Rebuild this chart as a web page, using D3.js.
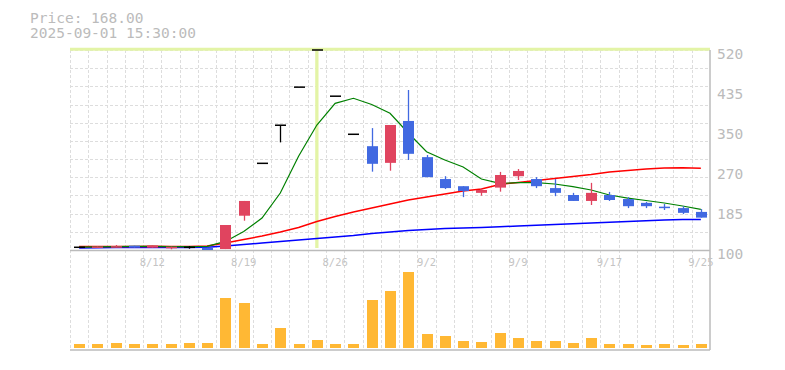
<!DOCTYPE html>
<html lang="en">
<head>
<meta charset="utf-8">
<title>Candle chart</title>
<style>
body { margin: 0; background: #fff; }
svg { display: block; }
.lbl { font-family: "DejaVu Sans Mono", monospace; fill: #bbb; }
.grid line { stroke: #ddd; stroke-dasharray: 3,2; }
</style>
<script src="https://d3js.org/d3.v7.min.js"></script>
</head>
<body>
<div id="chart"></div>
<script>
// trading days shown (holidays 8/11, 9/15, 9/23 skipped)
var dates = ["8/5","8/6","8/7","8/8","8/12","8/13","8/14","8/15","8/18","8/19",
             "8/20","8/21","8/22","8/25","8/26","8/27","8/28","8/29","9/1","9/2",
             "9/3","9/4","9/5","9/8","9/9","9/10","9/11","9/12","9/16","9/17",
             "9/18","9/19","9/22","9/24","9/25"];
var xLabels = ["8/12","8/19","8/26","9/2","9/9","9/17","9/25"];

var open  = [105.7,105.5,106,109,105,103.5,105.7,105,102,172, 282,362,442,520,423,343,318,283,371,295, 249,234,220,231,255,249,230,215.5,203,215.5, 207,199,191,188,180];
var high  = [105.7,107.5,110.5,109,109.5,107,108.4,105,152.5,203, 282,362,442,520,423,343,356,362.5,436,299.5, 255,234,230,264,270,253,249,220,241,222, 211,201,196.5,192,186];
var low   = [105.7,105.5,106,105,105,101.5,102.7,100,102,161.5, 282,326,442,520,423,343,264.5,266.5,289,253, 228,211,214,222.5,247,230,213,203,194.5,203, 188,188,184,175.5,168];
var close = [105.7,107.5,108,105,109.5,107,105.7,100,152.5,203, 282,362,442,520,423,343,281,362.5,302,253, 230,224,226,257.5,266,234,220,203,220,205, 192,192,190,178,168];

var volume = [4,4,5,4,4,4,5,5,50,45, 4,20,4,8,4,4,48,57,76,14, 12,7,6,15,10,7,7,5,10,4, 4,3,4,3,4].map(function(v) { return v * 1000; });

var ma5  = [106,106.5,107,107.5,107.5,107,107,107.5,118,138.9, 167,219.7,297,362.5,408,418.6,405.5,387,345.7,306.4, 289,274.3,249,240,241.3,241.3,238.6,233,226,215.5, 209,204,198.7,192.4,185.5];
var ma25 = [107.3,107.3,107.3,107.3,107.8,107.3,107.3,108.4,114.7,122, 129.4,137.8,147.3,159.9,170.4,179.8,188.2,196.6,205,211.3, 217.6,223.9,228.1,237.6,241.8,246,250.2,254.4,258.6,263.8, 267,270.1,272.2,272.8,271.8];
var ma75 = [104.2,104.6,105.25,105.25,105.25,105.25,105.25,105.7,108.4,111.55, 114.7,117.85,121,124.15,127.3,130.45,134.65,137.8,140.95,143.05, 145.15,146.2,147.25,148.9,150.4,151.9,153.55,155,156.7,158.2, 159.85,161.5,163,164.05,164.05];

var yTicks = [100,184,268,352,436,520];
var yTickLabels = ["100","185","270","350","435","520"];
var crossDate = "8/25", crossPrice = 520;
var headerLines = ["Price: 168.00", "2025-09-01 15:30:00"];

var width = 785, height = 370;
var plotL = 70, plotR = 710, plotT = 50, plotB = 250, volBottom = 348, volTop = 268, volAxis = 350;

var svg = d3.select("#chart").append("svg")
    .attr("width", width).attr("height", height);

var x = d3.scaleBand().domain(dates).range([plotL, plotR]);
var bw = x.bandwidth();
var cx = function(d) { return x(d) + bw / 2; };
var y = d3.scaleLinear().domain([100, 520]).range([plotB, plotT]);
var yv = d3.scaleLinear().domain([0, 80000]).range([volBottom, volTop]);

// header text
svg.selectAll(".hdr").data(headerLines).enter().append("text")
    .attr("class", "lbl")
    .attr("x", 30).attr("y", function(d, i) { return 22.7 + i * 15; })
    .style("font-size", "14.5px")
    .text(function(d) { return d; });

// grid
var grid = svg.append("g").attr("class", "grid");
var hSteps = d3.range(11).map(function(k) { return plotT + k * (plotB - plotT) / 11; });
grid.selectAll(".h").data(hSteps).enter().append("line")
    .attr("x1", plotL).attr("x2", plotR)
    .attr("y1", function(d) { return Math.round(d) + 0.5; })
    .attr("y2", function(d) { return Math.round(d) + 0.5; });
grid.selectAll(".v").data(dates).enter().append("line")
    .attr("x1", function(d) { return Math.round(x(d)) + 0.5; })
    .attr("x2", function(d) { return Math.round(x(d)) + 0.5; })
    .attr("y1", plotT).attr("y2", volAxis);

// crosshair
svg.append("line")
    .attr("x1", cx(crossDate)).attr("x2", cx(crossDate))
    .attr("y1", y(crossPrice) - 1.5).attr("y2", plotB - 2)
    .attr("stroke", "#e3f4a6").attr("stroke-width", 3.3);
svg.append("line")
    .attr("x1", plotL).attr("x2", plotR)
    .attr("y1", y(crossPrice) - 0.8).attr("y2", y(crossPrice) - 0.8)
    .attr("stroke", "#e3f4a6").attr("stroke-width", 3);

// axis lines
svg.append("line").attr("x1", plotL).attr("x2", plotR).attr("y1", plotB + 0.5).attr("y2", plotB + 0.5)
    .attr("stroke", "#bbb").attr("stroke-width", 1.5);
svg.append("line").attr("x1", plotL).attr("x2", plotR).attr("y1", volAxis).attr("y2", volAxis)
    .attr("stroke", "#bbb").attr("stroke-width", 1.5);
svg.append("line").attr("x1", plotR).attr("x2", plotR).attr("y1", plotT).attr("y2", volAxis)
    .attr("stroke", "#bbb").attr("stroke-width", 1.5);

// y axis labels
var yAxis = d3.axisRight(y).tickValues(yTicks)
    .tickFormat(function(d, i) { return yTickLabels[i]; })
    .tickSize(0).tickPadding(7);
var yAxisG = svg.append("g").attr("transform", "translate(" + plotR + ",0)").call(yAxis);
yAxisG.select(".domain").remove();
yAxisG.selectAll("text").attr("class", "lbl").attr("dy", "0.6em")
    .style("font-size", "14.5px").attr("fill", "#bbb");

// x labels
svg.selectAll(".xl").data(xLabels).enter().append("text")
    .attr("class", "lbl")
    .attr("x", function(d) { return cx(d); }).attr("y", 266)
    .attr("text-anchor", "middle")
    .style("font-size", "10.5px").style("fill", "#c4c4c4")
    .text(function(d) { return d; });

// moving averages
function maLine(vals, color, w) {
    var line = d3.line()
        .x(function(d, i) { return cx(dates[i]); })
        .y(function(d) { return y(d); });
    svg.append("path").datum(vals)
        .attr("d", line).attr("fill", "none")
        .attr("stroke", color).attr("stroke-width", w);
}
maLine(ma75, "#0000ff", 1.5);
maLine(ma25, "#ff0000", 1.5);
maLine(ma5, "#008000", 1.2);

// candles
var upColor = "#e0445f", downColor = "#4169e1";
var bodyW = 11;
function candleColor(i) {
    if (close[i] > open[i]) return upColor;
    if (close[i] < open[i]) return downColor;
    return "#000";
}
var candles = svg.selectAll(".candle").data(dates).enter().append("g");
candles.append("line")
    .attr("x1", function(d) { return Math.round(cx(d)) + 0.5; })
    .attr("x2", function(d) { return Math.round(cx(d)) + 0.5; })
    .attr("y1", function(d, i) { return y(high[i]); })
    .attr("y2", function(d, i) { return y(low[i]); })
    .attr("stroke", function(d, i) { return candleColor(i); })
    .attr("stroke-width", 1.3);
candles.append("rect")
    .attr("x", function(d) { return Math.round(cx(d)) + 0.5 - bodyW / 2; })
    .attr("width", bodyW)
    .attr("y", function(d, i) {
        var t = y(Math.max(open[i], close[i]));
        return open[i] === close[i] ? t - 0.75 : t;
    })
    .attr("height", function(d, i) {
        return Math.max(1.5, Math.abs(y(open[i]) - y(close[i])));
    })
    .attr("fill", function(d, i) { return candleColor(i); });

// volume
svg.selectAll(".vol").data(volume).enter().append("rect")
    .attr("x", function(d, i) { return Math.round(cx(dates[i])) + 0.5 - bodyW / 2; })
    .attr("width", bodyW)
    .attr("y", function(d) { return yv(d); })
    .attr("height", function(d) { return volBottom - yv(d); })
    .attr("fill", "#ffb834");
</script>
</body>
</html>
